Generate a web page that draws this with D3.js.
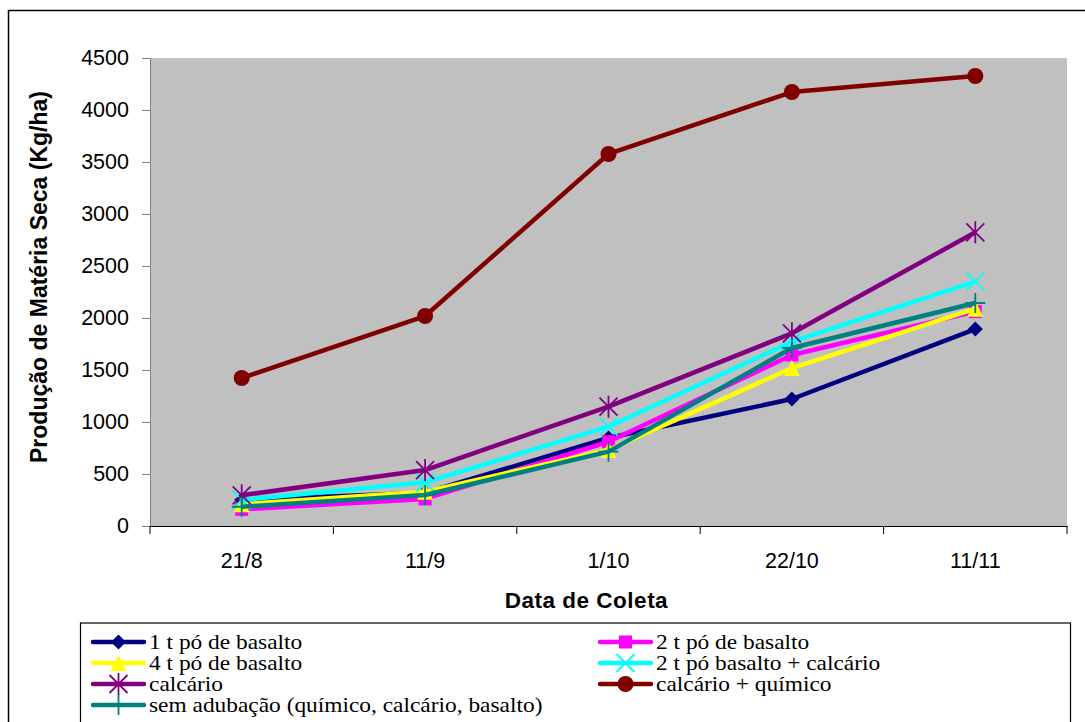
<!DOCTYPE html>
<html>
<head>
<meta charset="utf-8">
<script src="https://cdn.jsdelivr.net/npm/d3@7"></script>
<style>
  body { margin: 0; background: #fff; }
  svg { display: block; }
</style>
</head>
<body>
<script>
var dates, basalto1, basalto2, basalto4, basalto2Calc, calcario, calcQuimico, semAdub;

dates = ['21/8', '11/9', '1/10', '22/10', '11/11'];

basalto1 = [250, 320, 846, 1221, 1894];
basalto2 = [160, 260, 810, 1644, 2061];
basalto4 = [210, 330, 731, 1519, 2090];
basalto2Calc = [250, 420, 955, 1772, 2349];
calcario = [295, 538, 1147, 1853, 2824];
calcQuimico = [1423, 2019, 3577, 4173, 4327];
semAdub = [185, 298, 715, 1712, 2144];

var yTicks = [0, 500, 1000, 1500, 2000, 2500, 3000, 3500, 4000, 4500];

var series = [
  { name: '1 t pó de basalto', values: basalto1, color: '#000080', marker: 'diamond' },
  { name: '2 t pó de basalto', values: basalto2, color: '#ff00ff', marker: 'square' },
  { name: '4 t pó de basalto', values: basalto4, color: '#ffff00', marker: 'triangle' },
  { name: '2 t pó basalto + calcário', values: basalto2Calc, color: '#00ffff', marker: 'x' },
  { name: 'calcário', values: calcario, color: '#800080', marker: 'star' },
  { name: 'calcário + químico', values: calcQuimico, color: '#800000', marker: 'circle' },
  { name: 'sem adubação (químico, calcário, basalto)', values: semAdub, color: '#008080', marker: 'plus' }
];

var W = 1085, H = 722;
var plot = { left: 150, top: 58, right: 1067, bottom: 526 };
var SANS = 'Liberation Sans, Arial, sans-serif';

var svg = d3.select('body').append('svg')
  .attr('width', W)
  .attr('height', H);

// outer frame
svg.append('rect')
  .attr('x', 8.5).attr('y', 10.5)
  .attr('width', W).attr('height', H)
  .attr('fill', '#fff')
  .attr('stroke', '#000')
  .attr('stroke-width', 1.5);

var x = d3.scaleBand()
  .domain(dates)
  .range([plot.left, plot.right]);

var y = d3.scaleLinear()
  .domain([0, 4500])
  .range([plot.bottom, plot.top]);

svg.append('rect')
  .attr('x', plot.left).attr('y', plot.top)
  .attr('width', plot.right - plot.left)
  .attr('height', plot.bottom - plot.top)
  .attr('fill', '#c0c0c0');

var yAxis = svg.append('g')
  .attr('transform', 'translate(' + plot.left + ',0)')
  .call(d3.axisLeft(y).tickValues(yTicks).tickSize(8).tickPadding(13).tickFormat(d3.format('d')));
yAxis.selectAll('path, line').attr('stroke', '#808080');
yAxis.selectAll('text')
  .attr('font-family', SANS)
  .attr('font-size', 21.5)
  .attr('fill', '#000');

var xAxis = svg.append('g')
  .attr('transform', 'translate(0,' + plot.bottom + ')')
  .call(d3.axisBottom(x).tickSize(0).tickPadding(27).tickSizeOuter(0));
xAxis.select('.domain').attr('stroke', '#000');
xAxis.selectAll('text')
  .attr('font-family', SANS)
  .attr('font-size', 21.5)
  .attr('fill', '#000');

// category separator ticks
svg.append('g').selectAll('line')
  .data(dates.concat(['end']))
  .enter().append('line')
  .attr('x1', function(d, i) { return plot.left + i * x.step(); })
  .attr('x2', function(d, i) { return plot.left + i * x.step(); })
  .attr('y1', plot.bottom)
  .attr('y2', plot.bottom + 8)
  .attr('stroke', '#000');

svg.append('text')
  .attr('transform', 'translate(47,277) rotate(-90)')
  .attr('text-anchor', 'middle')
  .attr('font-family', SANS)
  .attr('font-weight', 'bold')
  .attr('font-size', 23)
  .text('Produção de Matéria Seca (Kg/ha)');

svg.append('text')
  .attr('x', (plot.left + plot.right) / 2 - 22)
  .attr('y', 608)
  .attr('text-anchor', 'middle')
  .attr('font-family', SANS)
  .attr('font-weight', 'bold')
  .attr('font-size', 22.5)
  .attr('letter-spacing', 0.5)
  .text('Data de Coleta');

function drawMarker(g, type, color, cx, cy) {
  var s;
  if (type === 'diamond') {
    s = 7.5;
    g.append('path')
      .attr('d', 'M' + cx + ',' + (cy - s) + 'L' + (cx + s) + ',' + cy + 'L' + cx + ',' + (cy + s) + 'L' + (cx - s) + ',' + cy + 'Z')
      .attr('fill', color);
  } else if (type === 'square') {
    s = 6.5;
    g.append('rect')
      .attr('x', cx - s).attr('y', cy - s)
      .attr('width', 2 * s).attr('height', 2 * s)
      .attr('fill', color);
  } else if (type === 'triangle') {
    s = 8;
    g.append('path')
      .attr('d', 'M' + cx + ',' + (cy - s) + 'L' + (cx + s) + ',' + (cy + s) + 'L' + (cx - s) + ',' + (cy + s) + 'Z')
      .attr('fill', color);
  } else if (type === 'circle') {
    g.append('circle')
      .attr('cx', cx).attr('cy', cy).attr('r', 8)
      .attr('fill', color);
  } else if (type === 'x') {
    s = 9;
    g.append('path')
      .attr('d', 'M' + (cx - s) + ',' + (cy - s) + 'L' + (cx + s) + ',' + (cy + s) + 'M' + (cx - s) + ',' + (cy + s) + 'L' + (cx + s) + ',' + (cy - s))
      .attr('stroke', color).attr('stroke-width', 1.8).attr('fill', 'none');
  } else if (type === 'star') {
    s = 9;
    g.append('path')
      .attr('d', 'M' + (cx - s) + ',' + (cy - s) + 'L' + (cx + s) + ',' + (cy + s) + 'M' + (cx - s) + ',' + (cy + s) + 'L' + (cx + s) + ',' + (cy - s) + 'M' + cx + ',' + (cy - s - 2) + 'L' + cx + ',' + (cy + s + 2))
      .attr('stroke', color).attr('stroke-width', 1.8).attr('fill', 'none');
  } else if (type === 'plus') {
    s = 10;
    g.append('path')
      .attr('d', 'M' + (cx - s) + ',' + cy + 'L' + (cx + s) + ',' + cy + 'M' + cx + ',' + (cy - s) + 'L' + cx + ',' + (cy + s))
      .attr('stroke', color).attr('stroke-width', 1.8).attr('fill', 'none');
  }
}

var line = d3.line()
  .x(function(d, i) { return x(dates[i]) + x.bandwidth() / 2; })
  .y(function(d) { return y(d); });

series.forEach(function(s) {
  var g = svg.append('g');
  g.append('path')
    .datum(s.values)
    .attr('d', line)
    .attr('fill', 'none')
    .attr('stroke', s.color)
    .attr('stroke-width', 4.5)
    .attr('stroke-linejoin', 'round');
  s.values.forEach(function(v, i) {
    drawMarker(g, s.marker, s.color, x(dates[i]) + x.bandwidth() / 2, y(v));
  });
});

// legend
var legend = svg.append('g');
legend.append('rect')
  .attr('x', 80.5).attr('y', 623)
  .attr('width', 990).attr('height', 120)
  .attr('fill', '#fff')
  .attr('stroke', '#000')
  .attr('stroke-width', 1.2);

series.forEach(function(s, k) {
  var col = k % 2, row = Math.floor(k / 2);
  var lx = col === 0 ? 93 : 600;
  var ly = 642 + row * 21;
  var g = legend.append('g');
  g.append('line')
    .attr('x1', lx).attr('x2', lx + 51)
    .attr('y1', ly).attr('y2', ly)
    .attr('stroke', s.color).attr('stroke-width', 4.5).attr('stroke-linecap', 'round');
  drawMarker(g, s.marker, s.color, lx + 25.5, ly);
  g.append('text')
    .attr('transform', 'translate(' + (lx + 56) + ',' + (ly + 7) + ') scale(1.17,1)')
    .attr('font-family', 'Liberation Serif, Times New Roman, serif')
    .attr('font-size', 20)
    .attr('fill', '#000')
    .text(s.name);
});
</script>
</body>
</html>
